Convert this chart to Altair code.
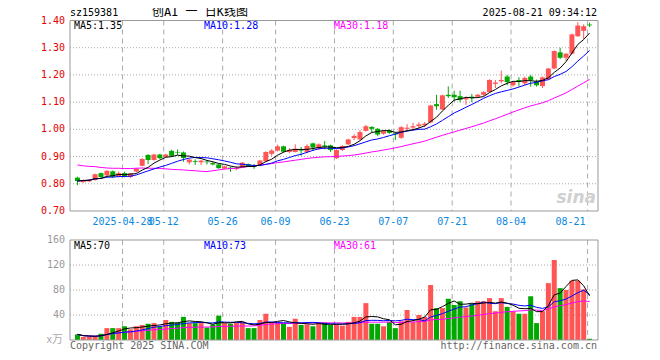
import altair as alt
import pandas as pd

# ---------------- data ----------------
opens = [0.8225, 0.806, 0.809, 0.814, 0.839, 0.831, 0.846, 0.826, 0.839, 0.825,
         0.845, 0.866, 0.906, 0.8875, 0.9075, 0.899, 0.921, 0.916, 0.915, 0.879,
         0.884, 0.879, 0.8813, 0.876, 0.871, 0.856, 0.859, 0.854, 0.861, 0.8725,
         0.866, 0.8685, 0.883, 0.91, 0.922, 0.9375, 0.917, 0.917, 0.927, 0.917,
         0.9485, 0.93, 0.941, 0.941, 0.894, 0.924, 0.945, 0.968, 0.963, 0.9945,
         1.009, 1.002, 0.984, 0.996, 0.985, 0.969, 1.002, 1.0065, 1.012, 1.015,
         1.026, 1.0926, 1.073, 1.127, 1.127, 1.122, 1.110, 1.12, 1.12, 1.127,
         1.137, 1.167, 1.1765, 1.194, 1.162, 1.1815, 1.169, 1.194, 1.1765, 1.159,
         1.184, 1.2235, 1.283, 1.263, 1.278, 1.342, 1.362, 1.385]
closes = [0.81, 0.814, 0.815, 0.835, 0.825, 0.8475, 0.826, 0.839, 0.829, 0.8375,
          0.856, 0.891, 0.8875, 0.9075, 0.894, 0.9075, 0.9025, 0.914, 0.895, 0.889,
          0.881, 0.885, 0.879, 0.871, 0.8575, 0.864, 0.855, 0.8575, 0.8775, 0.864,
          0.863, 0.8855, 0.917, 0.922, 0.9375, 0.918, 0.924, 0.929, 0.922, 0.939,
          0.933, 0.945, 0.936, 0.924, 0.924, 0.939, 0.963, 0.976, 0.99, 1.0115,
          1.002, 0.981, 0.9935, 0.987, 0.981, 1.008, 1.006, 1.0115, 1.018, 1.021,
          1.0877, 1.085, 1.125, 1.122, 1.118, 1.109, 1.115, 1.115, 1.127, 1.137,
          1.1815, 1.172, 1.1815, 1.174, 1.174, 1.1765, 1.189, 1.1815, 1.162, 1.191,
          1.2235, 1.288, 1.263, 1.278, 1.349, 1.3815, 1.379, 1.382]
highs = [0.826, 0.816, 0.8175, 0.8375, 0.8413, 0.85, 0.8488, 0.845, 0.844, 0.84,
         0.8588, 0.8938, 0.9088, 0.91, 0.91, 0.91, 0.925, 0.926, 0.9188, 0.891,
         0.89, 0.8875, 0.885, 0.88, 0.8738, 0.8663, 0.8625, 0.8638, 0.88, 0.875,
         0.873, 0.888, 0.919, 0.927, 0.944, 0.94, 0.931, 0.945, 0.935, 0.945,
         0.951, 0.9485, 0.957, 0.9435, 0.927, 0.9415, 0.9655, 0.982, 0.997, 1.0165,
         1.0115, 1.0045, 0.997, 1.0, 0.99, 1.0115, 1.019, 1.024, 1.026, 1.027,
         1.09, 1.127, 1.1275, 1.158, 1.142, 1.142, 1.12, 1.13, 1.13, 1.14,
         1.184, 1.1815, 1.216, 1.2, 1.1765, 1.1914, 1.194, 1.2, 1.183, 1.194,
         1.226, 1.29, 1.30, 1.28, 1.352, 1.394, 1.386, 1.392]
lows = [0.795, 0.804, 0.8065, 0.8115, 0.821, 0.8288, 0.821, 0.8238, 0.824, 0.821,
        0.8413, 0.8638, 0.8725, 0.885, 0.891, 0.8963, 0.8988, 0.906, 0.881, 0.871,
        0.869, 0.869, 0.871, 0.8675, 0.855, 0.8538, 0.844, 0.85, 0.8588, 0.8613,
        0.855, 0.866, 0.881, 0.903, 0.919, 0.915, 0.912, 0.915, 0.903, 0.912,
        0.921, 0.924, 0.927, 0.917, 0.891, 0.92, 0.9425, 0.9605, 0.9605, 0.992,
        0.9895, 0.975, 0.9805, 0.9835, 0.961, 0.9655, 0.994, 0.9995, 1.004, 1.008,
        1.022, 1.072, 1.0705, 1.115, 1.102, 1.10, 1.09, 1.10, 1.117, 1.122,
        1.135, 1.152, 1.169, 1.162, 1.157, 1.157, 1.162, 1.157, 1.157, 1.152,
        1.1815, 1.221, 1.258, 1.251, 1.275, 1.34, 1.332, 1.376]
volumes = [9, 5, 5, 5, 10, 19, 19, 19, 22, 17,
           22, 24, 26, 27, 21, 32, 29, 28, 37, 27,
           27, 27, 20, 25, 39, 27, 26, 28, 29, 19,
           19, 32, 42, 28, 28, 26, 21, 34, 24, 25,
           22, 27, 28, 24, 25, 23, 29, 37, 37, 59,
           26, 26, 22, 29, 19, 30, 48, 29, 40, 37,
           88, 51, 51, 66, 56, 62, 52, 58, 62, 62,
           67, 46, 67, 53, 46, 42, 42, 70, 27, 46,
           91, 128, 83, 80, 95, 95, 81, 2]
# MA30 of price over the first 29 sessions (earlier history not shown)
ma30_early = [0.869, 0.866, 0.864, 0.863, 0.860, 0.858, 0.857, 0.857, 0.856, 0.856,
              0.857, 0.858, 0.857, 0.857, 0.856, 0.855, 0.853, 0.852, 0.851, 0.849,
              0.848, 0.846, 0.845, 0.848, 0.851, 0.854, 0.856, 0.857, 0.860]

date_pos = [8, 15, 25, 34, 44, 54, 64, 74, 87]
date_labels = ["2025-04-28", "05-12", "05-26", "06-09", "06-23", "07-07", "07-21", "08-04", "08-21"]
price_ticks = [0.70, 0.80, 0.90, 1.00, 1.10, 1.20, 1.30, 1.40]
price_tick_labels = ["0.70", "0.80", "0.90", "1.00", "1.10", "1.20", "1.30", "1.40"]
vol_ticks = [40, 80, 120, 160]
vol_tick_labels = ["40", "80", "120", "160"]

# ---------------- tables ----------------
N = len(closes)
df = pd.DataFrame({"k": list(range(N)), "open": opens, "high": highs, "low": lows,
                   "close": closes, "vol": volumes})
df["dir"] = ["up" if c >= o else "down" for o, c in zip(opens, closes)]
s = pd.Series(closes, dtype=float)
df["ma5"] = s.rolling(5, min_periods=1).mean()
df["ma10"] = s.rolling(10, min_periods=1).mean()
m30 = s.rolling(30).mean()
m30.iloc[:len(ma30_early)] = ma30_early
df["ma30"] = m30
v = pd.Series(volumes, dtype=float)
df["vma5"] = v.rolling(5, min_periods=1).mean()
df["vma10"] = v.rolling(10, min_periods=1).mean()
df["vma30"] = v.rolling(30, min_periods=1).mean()

dates_df = pd.DataFrame({"k": date_pos, "label": date_labels, "i": list(range(len(date_pos)))})
pt_df = pd.DataFrame({"v": price_ticks, "t": price_tick_labels})
pg_df = pt_df.iloc[1:-1]
vt_df = pd.DataFrame({"v": vol_ticks, "t": vol_tick_labels})
vg_df = vt_df.iloc[:-1]
one = pd.DataFrame({"a": [0]})

# ---------------- styles ----------------
W, H = 528, 320
PTOP, PBOT = 0.5, 191
VTOP, VBOT = 220, 320
RED, GREEN = "#ff5555", "#00a800"
FONT = "DejaVu Sans Mono"
GRID = "#aaaaaa"
FRAME = "#999999"

XS = alt.Scale(domain=[-0.4167, 87.5833], nice=False, zero=False)
PS = alt.Scale(domain=[0.70, 1.40], range=[PBOT, PTOP], nice=False, zero=False)
VS = alt.Scale(domain=[0, 160], range=[VBOT, VTOP], nice=False, zero=True)
X = alt.X("k:Q", scale=XS, axis=None)
COL = alt.Color("dir:N", scale=alt.Scale(domain=["up", "down"], range=[RED, GREEN]), legend=None)


def py(f):
    return alt.Y(f, type="quantitative", scale=PS, axis=None)


def vy(f):
    return alt.Y(f, type="quantitative", scale=VS, axis=None, stack=None)


base = alt.Chart(df)

# ---- price panel ----
p_grid = alt.Chart(pg_df).mark_rule(color=GRID, strokeDash=[1, 2], strokeWidth=1).encode(
    y=py("v"), x=alt.value(0), x2=alt.value(W))
p_lab = alt.Chart(pt_df).mark_text(align="right", baseline="middle", font=FONT, fontSize=10,
                                   color="#e60000").encode(y=py("v"), x=alt.value(-5), text="t:N")
wick = base.mark_rule(strokeWidth=1).encode(x=X, y=py("low"), y2="high", color=COL)
body = base.mark_bar(size=5, strokeWidth=0).encode(x=X, y=py("open"), y2="close", color=COL)
ma30_l = base.mark_line(color="#ff00ff", strokeWidth=1).encode(x=X, y=py("ma30"))
ma10_l = base.mark_line(color="#0000ff", strokeWidth=1).encode(x=X, y=py("ma10"))
ma5_l = base.mark_line(color="#000000", strokeWidth=1).encode(x=X, y=py("ma5"))
price = alt.layer(p_grid, p_lab, wick, body, ma30_l, ma10_l, ma5_l)

# ---- volume panel ----
v_grid = alt.Chart(vg_df).mark_rule(color=GRID, strokeDash=[1, 2], strokeWidth=1).encode(
    y=vy("v"), x=alt.value(0), x2=alt.value(W))
v_lab = alt.Chart(vt_df).mark_text(align="right", baseline="middle", font=FONT, fontSize=10,
                                   color="#999999").encode(y=vy("v"), x=alt.value(-5), text="t:N")
vbar = base.mark_bar(size=5, strokeWidth=0).encode(x=X, y=vy("vol"), color=COL)
vma30_l = base.mark_line(color="#ff00ff", strokeWidth=1).encode(x=X, y=vy("vma30"))
vma10_l = base.mark_line(color="#0000ff", strokeWidth=1).encode(x=X, y=vy("vma10"))
vma5_l = base.mark_line(color="#000000", strokeWidth=1).encode(x=X, y=vy("vma5"))
volume = alt.layer(v_grid, v_lab, vbar, vma30_l, vma10_l, vma5_l)

# ---- shared decorations ----
dates = alt.Chart(dates_df)
d_rule_p = dates.mark_rule(color=GRID, strokeDash=[5, 4], strokeWidth=1, xOffset=-2).encode(
    x=X, y=alt.value(PTOP), y2=alt.value(PBOT))
d_rule_v = dates.mark_rule(color=GRID, strokeDash=[5, 4], strokeWidth=1, xOffset=-2).encode(
    x=X, y=alt.value(VTOP), y2=alt.value(VBOT))
d_text = dates.transform_filter(alt.datum.i < len(date_pos) - 1).mark_text(
    align="center", baseline="middle", font=FONT, fontSize=10, color="#0a88e0", dx=-2).encode(
    x=X, y=alt.value(202), text="label:N")
d_text_last = dates.transform_filter(alt.datum.i == len(date_pos) - 1).mark_text(
    align="right", baseline="middle", font=FONT, fontSize=10, color="#0a88e0", dx=-4).encode(
    x=X, y=alt.value(202), text="label:N")

frame_p = alt.Chart(one).mark_rect(fill="transparent", stroke=FRAME, strokeWidth=1).encode(
    x=alt.value(0), x2=alt.value(W), y=alt.value(PTOP), y2=alt.value(PBOT))
frame_v = alt.Chart(one).mark_rect(fill="transparent", stroke=FRAME, strokeWidth=1).encode(
    x=alt.value(0), x2=alt.value(W), y=alt.value(VTOP), y2=alt.value(VBOT))


def txt(t, x, y, color="#000000", align="left", size=10, font=FONT, **kw):
    return alt.Chart(one).mark_text(text=t, align=align, baseline="middle", font=font,
                                    fontSize=size, color=color, **kw).encode(
        x=alt.value(x), y=alt.value(y))


texts = [
    txt("sz159381", 0, -7),
    txt("创AI 一 日K线图", 130, -8, align="center", size=12, font=FONT + ", Noto Sans CJK SC"),
    txt("2025-08-21 09:34:12", 527, -7, align="right"),
    txt("MA5:1.35", 4, 6),
    txt("MA10:1.28", 134, 6, color="#0000ff"),
    txt("MA30:1.18", 264, 6, color="#ff00ff"),
    txt("MA5:70", 4, 226),
    txt("MA10:73", 134, 226, color="#0000ff"),
    txt("MA30:61", 264, 226, color="#ff00ff"),
    txt("x万", -7, 320, color="#aaaaaa", align="right", size=11, font="Noto Sans CJK SC"),
    txt("Copyright 2025 SINA.COM", 0, 325.5, color="#666666"),
    txt("http://finance.sina.com.cn", 527, 325.5, color="#666666", align="right"),
    txt("sina", 526, 178, color="#d0d0d0", align="right", size=17, font="DejaVu Sans",
        fontStyle="italic", fontWeight="bold"),
]

chart = alt.layer(
    d_rule_p, d_rule_v, price, volume, frame_p, frame_v, d_text, d_text_last, *texts
).resolve_scale(y="independent").properties(
    width=W, height=H,
    autosize=alt.AutoSizeParams(type="none"),
    padding={"left": 62, "top": 12, "right": 46, "bottom": 16},
    background="white",
).configure_view(stroke=None)

chart.save("out.html", embed_options={"renderer": "svg", "actions": False})
